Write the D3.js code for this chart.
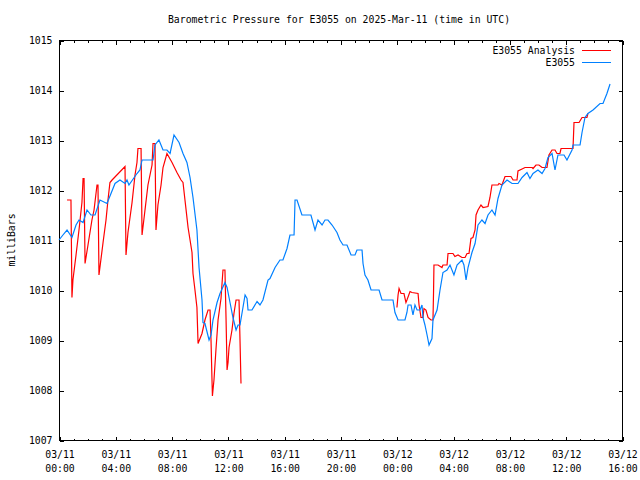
<!DOCTYPE html>
<html>
<head>
<meta charset="utf-8">
<script src="https://cdn.jsdelivr.net/npm/d3@7"></script>
<style>
  html, body { margin: 0; padding: 0; background: #fff; }
  svg { display: block; }
  text { font-family: "DejaVu Sans Mono", "Liberation Mono", monospace; font-size: 9.8px; fill: #000; }
</style>
</head>
<body>
<svg id="chart" width="640" height="480"></svg>
<script>
// ---- Data (hours since 2025-03-11 00:00 UTC, pressure in millibars) ----
const stationHours = [0.00,0.28,0.57,0.92,1.21,1.42,1.71,1.99,2.27,2.56,2.91,3.41,3.98,4.33,4.69,4.83,4.97,5.54,5.75,5.90,6.68,6.82,7.10,7.39,7.67,7.89,8.17,8.53,8.81,9.09,9.31,9.52,9.80,9.95,10.16,10.23,10.37,10.66,10.80,10.94,11.23,11.44,11.79,11.94,12.15,12.36,12.58,12.72,12.86,13.07,13.22,13.36,13.43,13.71,14.07,14.28,14.49,14.85,14.99,15.35,15.70,15.91,16.20,16.41,16.70,16.77,16.91,17.26,17.90,18.19,18.40,18.69,18.90,19.11,19.40,19.75,19.96,20.18,20.46,20.75,21.03,21.17,21.53,21.60,21.74,21.95,22.17,22.74,22.95,23.73,23.87,24.09,24.58,24.72,24.80,25.01,25.15,25.29,25.44,25.65,25.79,25.86,26.00,26.15,26.29,26.50,26.57,26.86,27.07,27.28,27.57,27.78,28.06,28.28,28.63,28.77,28.92,29.06,29.34,29.56,29.77,30.05,30.27,30.48,30.76,30.98,31.19,31.47,31.83,32.19,32.61,32.90,33.25,33.46,33.68,34.03,34.32,34.53,34.74,35.03,35.24,35.45,35.88,36.09,36.45,36.52,37.02,37.16,37.37,37.58,37.94,38.44,38.65,38.93,39.15];
const stationValues = [1011.0,1011.1,1011.2,1011.05,1011.3,1011.4,1011.35,1011.6,1011.5,1011.5,1011.8,1011.73,1012.13,1012.2,1012.13,1012.2,1012.1,1012.33,1012.4,1012.6,1012.6,1012.9,1013.0,1012.8,1012.8,1012.73,1013.1,1012.95,1012.73,1012.55,1012.25,1011.85,1011.2,1010.45,1009.8,1009.35,1009.33,1009.0,1009.1,1009.4,1009.75,1009.93,1010.15,1010.05,1009.75,1009.45,1009.2,1009.3,1009.3,1009.65,1009.9,1009.83,1009.6,1009.6,1009.77,1009.7,1009.8,1010.2,1010.23,1010.45,1010.6,1010.6,1010.83,1011.1,1011.1,1011.8,1011.8,1011.5,1011.5,1011.2,1011.4,1011.3,1011.4,1011.4,1011.3,1011.15,1011.0,1010.9,1010.9,1010.7,1010.7,1010.8,1010.8,1010.53,1010.3,1010.2,1010.0,1010.0,1009.8,1009.8,1009.55,1009.4,1009.4,1009.55,1009.7,1009.7,1009.5,1009.7,1009.6,1009.6,1009.7,1009.45,1009.3,1009.1,1008.9,1009.03,1009.4,1009.6,1010.0,1010.35,1010.4,1010.5,1010.3,1010.5,1010.6,1010.5,1010.2,1010.45,1010.75,1010.93,1011.3,1011.4,1011.33,1011.5,1011.6,1011.5,1011.83,1012.1,1012.2,1012.13,1012.13,1012.25,1012.35,1012.23,1012.33,1012.4,1012.33,1012.43,1012.65,1012.73,1012.4,1012.7,1012.7,1012.6,1012.8,1012.9,1012.9,1013.15,1013.45,1013.53,1013.6,1013.73,1013.73,1013.93,1014.12];

// null value marks the gap in the analysis series
const analysisHours = [0.57,0.85,0.92,0.99,1.21,1.42,1.63,1.71,1.78,1.85,2.06,2.34,2.49,2.70,2.77,2.84,3.13,3.34,3.48,3.62,3.77,4.69,4.76,4.90,5.19,5.40,5.54,5.61,5.83,5.90,6.11,6.32,6.61,6.68,6.82,6.89,7.03,7.25,7.39,7.67,8.03,8.38,8.67,8.81,8.95,9.17,9.31,9.45,9.52,9.66,9.80,9.88,10.02,10.16,10.37,10.59,10.73,10.80,10.87,10.90,11.01,11.15,11.30,11.51,11.65,11.79,11.87,11.94,12.01,12.08,12.29,12.43,12.58,12.79,12.86,12.93,
  18.00,
  24.01,24.09,24.16,24.30,24.51,24.65,24.72,24.94,25.08,25.51,25.58,25.72,25.86,25.93,26.07,26.22,26.43,26.57,26.61,26.64,26.93,27.21,27.28,27.57,27.64,27.99,28.13,28.35,28.63,28.85,28.99,29.13,29.27,29.41,29.56,29.63,29.77,29.98,30.13,30.48,30.62,30.76,31.19,31.26,31.47,31.69,32.11,32.26,32.54,32.61,32.90,33.11,33.61,33.68,33.89,34.10,34.32,34.67,34.81,35.03,35.24,35.38,35.59,35.67,36.52,36.59,36.95,37.16,37.51,37.58];
const analysisValues = [1011.8,1011.8,1009.85,1010.2,1010.7,1011.2,1011.75,1012.23,1012.23,1010.53,1010.9,1011.4,1011.6,1012.1,1012.1,1010.3,1010.95,1011.4,1011.8,1012.15,1012.2,1012.47,1010.7,1011.15,1011.75,1012.3,1012.55,1012.83,1012.83,1011.1,1011.6,1012.1,1012.5,1012.93,1012.93,1011.2,1011.7,1012.1,1012.45,1012.73,1012.55,1012.35,1012.2,1012.15,1011.8,1011.25,1011.0,1010.75,1010.33,1010.0,1009.65,1008.93,1009.03,1009.13,1009.4,1009.6,1009.6,1009.0,1008.2,1007.88,1008.2,1008.8,1009.4,1009.83,1010.4,1010.4,1009.4,1008.4,1008.55,1008.85,1009.2,1009.53,1009.8,1009.8,1009.0,1008.13,
  null,
  1009.65,1009.9,1010.03,1009.93,1009.93,1009.75,1009.8,1009.97,1009.95,1009.93,1009.7,1009.45,1009.45,1009.63,1009.6,1009.45,1009.4,1009.4,1009.95,1010.5,1010.5,1010.45,1010.5,1010.5,1010.73,1010.73,1010.67,1010.7,1010.65,1010.65,1010.73,1010.73,1011.03,1011.05,1011.2,1011.5,1011.6,1011.7,1011.65,1011.67,1011.85,1012.1,1012.1,1012.13,1012.1,1012.27,1012.27,1012.2,1012.2,1012.38,1012.42,1012.45,1012.45,1012.43,1012.5,1012.5,1012.45,1012.45,1012.7,1012.8,1012.8,1012.73,1012.73,1012.83,1012.83,1013.35,1013.35,1013.45,1013.45,1013.53];

const yTickValues = [1007,1008,1009,1010,1011,1012,1013,1014,1015];
const xTickHours = [0,4,8,12,16,20,24,28,32,36,40];
const seriesNames = ["E3055 Analysis", "E3055"];
const seriesColors = ["#ff0000", "#0080ff"];
const titleText = "Barometric Pressure for E3055 on 2025-Mar-11 (time in UTC)";
const yLabelText = "milliBars";

// ---- Layout ----
const start = Date.UTC(2025, 2, 11, 0, 0);
const toDate = h => new Date(start + h * 3600e3);
const L = 59, R = 622, T = 40, B = 440;

const svg = d3.select("#chart");
const x = d3.scaleUtc().domain([toDate(0), toDate(40)]).range([L, R]);
const y = d3.scaleLinear().domain([1007, 1015]).range([B, T]);

// frame
svg.append("rect").attr("x", L + 0.5).attr("y", T + 0.5)
  .attr("width", R - L).attr("height", B - T)
  .attr("fill", "none").attr("stroke", "#000").attr("shape-rendering", "crispEdges");

const hourly = d3.range(0, 41).map(toDate);
const majors = xTickHours.map(toDate);

function styleAxis(g) {
  g.select(".domain").remove();
  g.selectAll("line").attr("stroke", "#000").attr("shape-rendering", "crispEdges");
  g.attr("font-family", null).attr("font-size", null);
}

// minor + major ticks bottom (inward)
svg.append("g").attr("transform", `translate(0.5,${B + 0.5})`)
  .call(d3.axisBottom(x).tickValues(hourly).tickSize(-2).tickFormat("")).call(styleAxis);
svg.append("g").attr("transform", `translate(0.5,${B + 0.5})`)
  .call(d3.axisBottom(x).tickValues(majors).tickSize(-4).tickFormat("")).call(styleAxis);
// top mirror
svg.append("g").attr("transform", `translate(0.5,${T + 0.5})`)
  .call(d3.axisTop(x).tickValues(hourly).tickSize(-2).tickFormat("")).call(styleAxis);
svg.append("g").attr("transform", `translate(0.5,${T + 0.5})`)
  .call(d3.axisTop(x).tickValues(majors).tickSize(-4).tickFormat("")).call(styleAxis);

// x labels (two lines)
const fmtDay = d3.utcFormat("%m/%d"), fmtTime = d3.utcFormat("%H:%M");
const xl = svg.append("g").attr("transform", `translate(0.5,${B})`)
  .call(d3.axisBottom(x).tickValues(majors).tickSize(0).tickFormat("")).call(styleAxis);
xl.selectAll(".tick").each(function(d) {
  const t = d3.select(this).select("text").attr("y", null).attr("dy", null).attr("fill", "#000");
  t.append("tspan").attr("x", 0).attr("y", 17.5).text(fmtDay(d));
  t.append("tspan").attr("x", 0).attr("y", 31.5).text(fmtTime(d));
});

// y axes
svg.append("g").attr("transform", `translate(${L + 0.5},0.5)`)
  .call(d3.axisLeft(y).tickValues(yTickValues).tickSize(-4).tickPadding(7).tickFormat(d3.format("d")))
  .call(styleAxis)
  .selectAll("text").attr("fill", "#000");
svg.append("g").attr("transform", `translate(${R + 0.5},0.5)`)
  .call(d3.axisRight(y).tickValues(yTickValues).tickSize(-4).tickFormat(""))
  .call(styleAxis);

// title & y label
svg.append("text").attr("x", 339).attr("y", 22.5).attr("text-anchor", "middle").text(titleText);
svg.append("text").attr("transform", "translate(14.5,240) rotate(-90)")
  .attr("text-anchor", "middle").text(yLabelText);

// lines
const line = d3.line()
  .defined(d => d[1] != null)
  .x(d => x(toDate(d[0])))
  .y(d => y(d[1]));

const analysisData = analysisHours.map((h, i) => [h, analysisValues[i]]);
const stationData = stationHours.map((h, i) => [h, stationValues[i]]);

svg.append("path").datum(analysisData).attr("d", line)
  .attr("fill", "none").attr("stroke", seriesColors[0]).attr("stroke-width", 1.2);
svg.append("path").datum(stationData).attr("d", line)
  .attr("fill", "none").attr("stroke", seriesColors[1]).attr("stroke-width", 1.2);

// legend
seriesNames.forEach((name, i) => {
  const ly = 50 + i * 12;
  svg.append("text").attr("x", 575).attr("y", ly + 3.5).attr("text-anchor", "end").text(name);
  svg.append("line").attr("x1", 582).attr("x2", 611).attr("y1", ly + 0.5).attr("y2", ly + 0.5)
    .attr("stroke", seriesColors[i]).attr("stroke-width", 1).attr("shape-rendering", "crispEdges");
});
</script>
</body>
</html>
